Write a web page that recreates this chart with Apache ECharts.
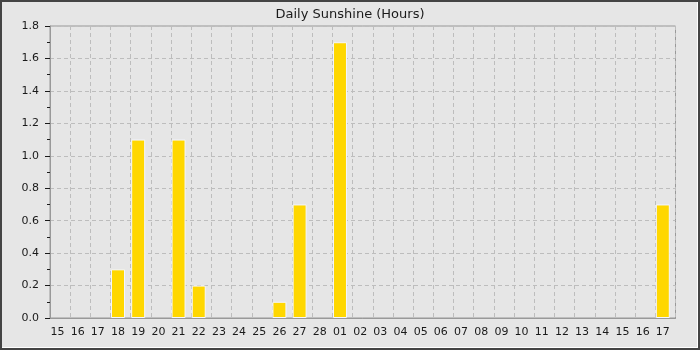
<!DOCTYPE html>
<html>
<head>
<meta charset="utf-8">
<script src="https://cdn.jsdelivr.net/npm/echarts@6/dist/echarts.min.js"></script>
<style>
html,body{margin:0;padding:0;background:#e6e6e6;}
#wrap{position:relative;width:700px;height:350px;}
#chart{width:700px;height:350px;}
#frame{position:absolute;left:0;top:0;width:700px;height:350px;box-sizing:border-box;pointer-events:none;
  border:2px solid #444;}
#frame2{position:absolute;left:2px;top:2px;width:696px;height:346px;box-sizing:border-box;pointer-events:none;
  border-right:1px solid #fff;border-bottom:1px solid #fff;}
</style>
</head>
<body>
<div id="wrap"><div id="chart"></div><div id="frame"></div><div id="frame2"></div></div>
<script>
const titleText = 'Daily Sunshine (Hours)';
const categories = ['15','16','17','18','19','20','21','22','23','24','25','26','27','28',
  '01','02','03','04','05','06','07','08','09','10','11','12','13','14','15','16','17'];
const sunshine = [0,0,0,0.3,1.1,0,1.1,0.2,0,0,0,0.1,0.7,0,
  1.7,0,0,0,0,0,0,0,0,0,0,0,0,0,0,0,0.7];
const yMin = 0, yMax = 1.8, yStep = 0.2;

const plotLeft = 50, plotWidth = 625.5, plotTop = 26, plotHeight = 292;
const shift = 2.6;
const font = 'DejaVu Sans';

const chart = echarts.init(document.getElementById('chart'), null, {renderer:'canvas'});
chart.setOption({
  backgroundColor: '#e6e6e6',
  animation: false,
  title: {
    text: titleText, left: 'center', top: 3,
    textStyle: {fontFamily: font, fontSize: 13, fontWeight: 'normal', color: '#1a1a1a'}
  },
  grid: [
    {left: plotLeft, top: plotTop, width: plotWidth, height: plotHeight, show: true,
     borderColor: '#999', borderWidth: 1, backgroundColor: 'transparent', containLabel: false},
    {left: plotLeft - shift, top: plotTop, width: plotWidth, height: plotHeight, containLabel: false}
  ],
  xAxis: [
    {type: 'category', gridIndex: 0, data: categories, boundaryGap: true,
     axisLine: {show: true, lineStyle: {color: '#999'}}, axisTick: {show: false},
     axisLabel: {show: false},
     splitLine: {show: true, interval: 0, lineStyle: {color: '#bdbdbd', type: [4,3], width: 1}}},
    {type: 'category', gridIndex: 1, data: categories, boundaryGap: true,
     axisLine: {show: false}, axisTick: {show: false},
     axisLabel: {show: true, interval: 0, margin: 9, fontFamily: font, fontSize: 11, color: '#1a1a1a'},
     splitLine: {show: false}}
  ],
  yAxis: [
    {type: 'value', gridIndex: 0, min: yMin, max: yMax, interval: yStep,
     axisLine: {show: true, lineStyle: {color: '#999'}},
     axisTick: {show: true, inside: false, length: 5, lineStyle: {color: '#1a1a1a'}},
     minorTick: {show: true, splitNumber: 2, length: 3, lineStyle: {color: '#1a1a1a'}},
     axisLabel: {margin: 11, fontFamily: font, fontSize: 11, color: '#1a1a1a',
       formatter: v => v.toFixed(1)},
     splitLine: {show: true, lineStyle: {color: '#bdbdbd', type: [4,3], width: 1}}},
    {type: 'value', gridIndex: 1, min: yMin, max: yMax, interval: yStep, show: false,
     splitLine: {show: false}}
  ],
  series: [{
    type: 'bar', xAxisIndex: 1, yAxisIndex: 1,
    data: sunshine.map(v => v === 0 ? '-' : v), barWidth: 14,
    itemStyle: {color: '#ffd700', borderColor: '#f4f6ff', borderWidth: 1},
    z: 5
  }]
});
</script>
</body>
</html>
